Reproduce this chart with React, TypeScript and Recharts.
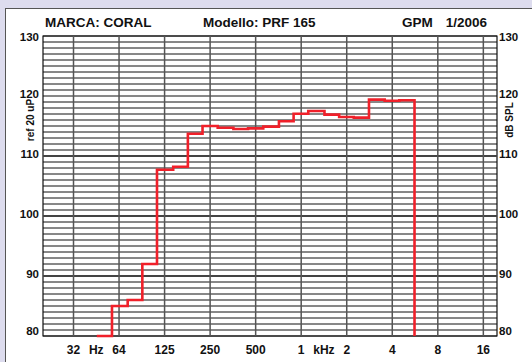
import React from "react";
import {
  LineChart,
  Line,
  XAxis,
  YAxis,
  CartesianGrid,
  ReferenceLine,
  ReferenceArea,
} from "recharts";

// ---- data ----
const bandCentersHz = [
  50, 63, 80, 100, 125, 160, 200, 250, 315, 400, 500, 630, 800, 1000, 1250,
  1600, 2000, 2500, 3150, 4000, 5000,
];
const levelsDb = [
  80, 85.0, 86.0, 92.0, 107.7, 108.2, 113.7, 115.0, 114.7, 114.5, 114.6, 114.9,
  115.8, 117.05, 117.5, 116.9, 116.5, 116.4, 119.4, 119.2, 119.3,
];
const octaveTickLabels = ["32", "64", "125", "250", "500", "1", "2", "4", "8", "16"];
const unitLabels = ["Hz", "kHz"];
const heavyGridDb = [90, 100, 110];

const titleLeft = "MARCA: CORAL";
const titleMid = "Modello: PRF 165";
const titleRight1 = "GPM";
const titleRight2 = "1/2006";
const leftAxisTitle = "ref 20 uP";
const rightAxisTitle = "dB SPL";

// ---- derived ----
const Y_MIN = 80;
const Y_MAX = 130;
const X_DOMAIN: [number, number] = [-5.67, 4.3];
const oct = (f: number) => Math.log2(f / 1000);

const curve: { x: number; y: number }[] = bandCentersHz.map((f, i) => ({
  x: oct(f) - 1 / 6,
  y: levelsDb[i],
}));
const lastF = bandCentersHz[bandCentersHz.length - 1];
curve.push({ x: oct(lastF) + 1 / 6, y: levelsDb[levelsDb.length - 1] });
curve.push({ x: oct(lastF) + 1 / 6, y: Y_MIN });

// octave gridline positions: index 0 -> 32 Hz = -5 octaves from 1 kHz
const octavePositions = octaveTickLabels.map((_, i) => i - 5);
const xTickMap = new Map<number, string>();
octavePositions.forEach((p, i) => xTickMap.set(p, octaveTickLabels[i]));
xTickMap.set((octavePositions[0] + octavePositions[1]) / 2, unitLabels[0]);
xTickMap.set((octavePositions[5] + octavePositions[6]) / 2, unitLabels[1]);
const xTicks = Array.from(xTickMap.keys()).sort((a, b) => a - b);

const yTicks: number[] = [];
for (let v = Y_MIN; v <= Y_MAX; v++) yTicks.push(v);

const FONT = "'Liberation Sans', Arial, Helvetica, sans-serif";

const yLabelDy = (v: number) => (v === Y_MAX ? 5 : v === Y_MIN ? -1 : 2);

const LeftTick = (props: any) => {
  const { x, y, payload } = props;
  if (payload.value % 10 !== 0) return <g />;
  return (
    <text x={x - 4} y={y + yLabelDy(payload.value)} textAnchor="end" fontFamily={FONT} fontWeight="bold" fontSize={11.5} fill="#111">
      {payload.value}
    </text>
  );
};
const RightTick = (props: any) => {
  const { x, y, payload } = props;
  if (payload.value % 10 !== 0) return <g />;
  return (
    <text x={x + 2} y={y + yLabelDy(payload.value)} textAnchor="start" fontFamily={FONT} fontWeight="bold" fontSize={11.5} fill="#111">
      {payload.value}
    </text>
  );
};
const BottomTick = (props: any) => {
  const { x, y, payload } = props;
  const label = xTickMap.get(payload.value) ?? "";
  return (
    <text x={x} y={y + 18} textAnchor="middle" fontFamily={FONT} fontWeight="bold" fontSize={12} fill="#111">
      {label}
    </text>
  );
};

export default function App() {
  return (
    <div style={{ position: "absolute", left: 0, top: 0, width: 532, height: 362, background: "#dddcee", overflow: "hidden" }}>
      <div style={{ position: "absolute", left: 5, top: 8, width: 600, height: 400, background: "#fff", borderLeft: "1px solid #555", borderTop: "1px solid #555" }} />
      <div style={{ position: "absolute", left: 0, top: 0 }}>
        <LineChart width={532} height={362} data={curve} margin={{ top: 36, right: 0, bottom: 0, left: 0 }}>
          <XAxis
            dataKey="x"
            type="number"
            domain={X_DOMAIN}
            ticks={xTicks}
            interval={0}
            tick={<BottomTick />}
            tickLine={false}
            axisLine={false}
            tickSize={0}
            tickMargin={0}
            height={26}
          />
          <YAxis
            type="number"
            domain={[Y_MIN, Y_MAX]}
            ticks={yTicks}
            interval={0}
            tick={<LeftTick />}
            tickLine={false}
            axisLine={false}
            tickSize={0}
            tickMargin={0}
            width={43}
          />
          <YAxis
            yAxisId="right"
            orientation="right"
            type="number"
            domain={[Y_MIN, Y_MAX]}
            allowDataOverflow
            ticks={yTicks}
            interval={0}
            tick={<RightTick />}
            tickLine={false}
            axisLine={false}
            tickSize={0}
            tickMargin={0}
            width={35}
          />
          <CartesianGrid vertical={false} stroke="#111" strokeWidth={1} />
          {heavyGridDb.map((v) => (
            <ReferenceLine key={"h" + v} y={v} stroke="#444" strokeWidth={1.8} />
          ))}
          {octavePositions.map((p) => (
            <ReferenceLine key={"v" + p} x={p} stroke="#555" strokeWidth={1.5} />
          ))}
          <ReferenceArea x1={X_DOMAIN[0]} x2={X_DOMAIN[1]} y1={Y_MIN} y2={Y_MAX} fill="none" stroke="#111" strokeWidth={1.2} />
          <Line
            dataKey="y"
            type="stepAfter"
            stroke="#f0202a"
            strokeWidth={2.6}
            dot={false}
            activeDot={false}
            isAnimationActive={false}
          />
        </LineChart>
      </div>
      <svg width={532} height={362} style={{ position: "absolute", left: 0, top: 0, pointerEvents: "none" }}>
        <g fontFamily={FONT} fontWeight="bold" fill="#111">
          <text x={45} y={27} fontSize={13.5}>{titleLeft}</text>
          <text x={203} y={27} fontSize={13.5}>{titleMid}</text>
          <text x={402} y={27} fontSize={13.5}>{titleRight1}</text>
          <text x={487} y={27} fontSize={13.5} textAnchor="end">{titleRight2}</text>
          <text x={0} y={0} fontSize={10} textAnchor="middle" transform="translate(34 120) rotate(-90)">{leftAxisTitle}</text>
          <text x={0} y={0} fontSize={10} textAnchor="middle" transform="translate(513 120) rotate(-90)">{rightAxisTitle}</text>
        </g>
      </svg>
    </div>
  );
}
